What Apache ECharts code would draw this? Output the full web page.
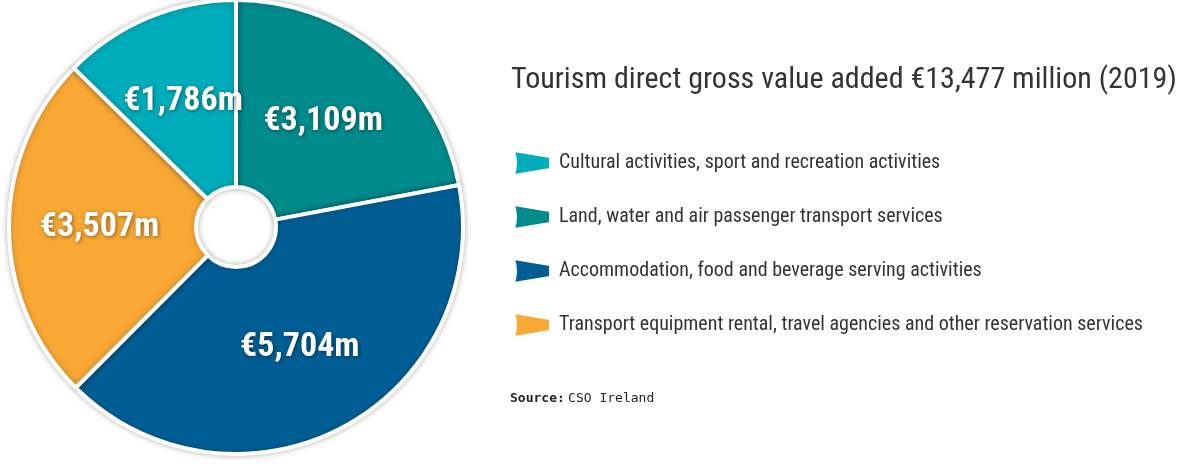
<!DOCTYPE html>
<html><head><meta charset="utf-8">
<script src="https://cdn.jsdelivr.net/npm/echarts@6/dist/echarts.min.js"></script>
<style>html,body{margin:0;background:#fff}#c{width:1200px;height:464px}</style>
</head><body><div id="c"></div>
<script>
// clockwise from top
var names = ['Land, water and air passenger transport services',
             'Accommodation, food and beverage serving activities',
             'Transport equipment rental, travel agencies and other reservation services',
             'Cultural activities, sport and recreation activities'];
var values = [3109, 5704, 3507, 1786];
var colors = ['#008b8d', '#005e95', '#f9a834', '#00adba'];
var legendOrder = [names[3], names[0], names[1], names[2]];
var font = '"Liberation Sans Narrow", "Roboto Condensed", "DejaVu Sans Condensed", sans-serif';

var chart = echarts.init(document.getElementById('c'));
chart.setOption({
  title: {
    text: 'Tourism direct gross value added €13,477 million (2019)',
    left: 506, top: 60,
    textStyle: { fontFamily: font, fontWeight: 'normal', fontSize: 30, color: '#333' }
  },
  legend: {
    orient: 'vertical', left: 508, top: 145, itemGap: 28,
    itemWidth: 36, itemHeight: 26,
    icon: 'path://M0,2 L36,8 L36,20 L0,26 Q4,14 0,2 Z',
    data: legendOrder,
    textStyle: { fontFamily: font, fontSize: 20, color: '#333', padding: [0, 0, 0, 4] }
  },
  graphic: [{
    type: 'text', left: 510, top: 392,
    style: {
      rich: {
        b: { fontFamily: 'DejaVu Sans Mono', fontWeight: 'bold', fontSize: 13, fill: '#222' },
        n: { fontFamily: 'DejaVu Sans Mono', fontSize: 13, fill: '#222' }
      },
      text: '{b|Source:} {n|CSO Ireland}'
    }
  }],
  series: [{
    type: 'pie', center: [236, 227], radius: [40, 227],
    startAngle: 90, clockwise: true,
    itemStyle: { borderColor: '#fff', borderWidth: 4, shadowBlur: 6, shadowColor: 'rgba(0,0,0,0.25)' },
    label: {
      position: 'inside', color: '#fff', fontFamily: font, fontWeight: 'bold', fontSize: 34,
      textShadowColor: 'rgba(0,0,0,0.45)', textShadowBlur: 4, textShadowOffsetX: 1, textShadowOffsetY: 1,
      formatter: function (p) { return '€' + p.value.toLocaleString('en-US') + 'm'; }
    },
    emphasis: { disabled: true },
    data: names.map(function (n, i) {
      return { name: n, value: values[i], itemStyle: { color: colors[i] } };
    })
  }]
});
</script></body></html>
